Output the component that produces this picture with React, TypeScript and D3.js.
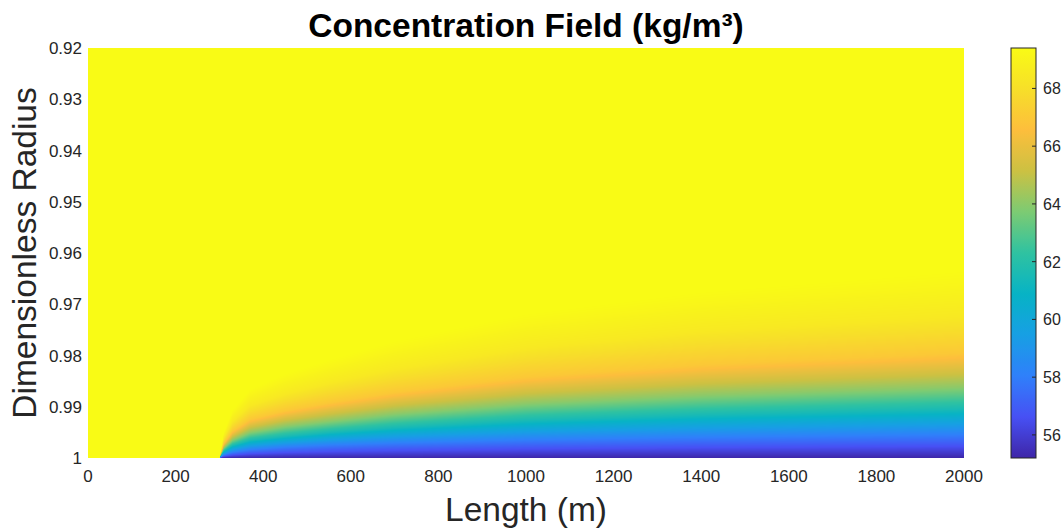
import React, { useMemo } from "react";
import * as d3 from "d3";

// Axis ticks
const lengthTicks = [0, 200, 400, 600, 800, 1000, 1200, 1400, 1600, 1800, 2000];
const radiusTicks = [0.92, 0.93, 0.94, 0.95, 0.96, 0.97, 0.98, 0.99, 1];
const colorTicks = [56, 58, 60, 62, 64, 66, 68];

// Concentration limits (kg/m³)
const wallConc = 55.2;
const bulkConc = 69.4;
const onsetLength = 300; // the wall starts absorbing here (m)

// Stations along the length where the concentration contours are tabulated (m)
const stations = [300, 310, 330, 370, 450, 553, 700, 1000, 1400, 2000];
// Contour levels (kg/m³) and their distance from the wall (1 - r) at each station
const levels = [58, 61.5, 64, 67, 68.5, bulkConc];
const depth58 = [0, 0.0006, 0.0011, 0.0016, 0.0021, 0.0025, 0.0029, 0.0035, 0.004, 0.0045];
const depth615 = [0, 0.0013, 0.0024, 0.0034, 0.0042, 0.005, 0.0059, 0.0073, 0.0084, 0.0095];
const depth64 = [0, 0.0019, 0.0035, 0.005, 0.0062, 0.0072, 0.0086, 0.0106, 0.0122, 0.0138];
const depth67 = [0, 0.0028, 0.0052, 0.0075, 0.0092, 0.0108, 0.0128, 0.0158, 0.0182, 0.0205];
const depth685 = [0, 0.0038, 0.0071, 0.0102, 0.0125, 0.0147, 0.0174, 0.0215, 0.0248, 0.0278];
const depthBulk = [0, 0.005, 0.0093, 0.0134, 0.0164, 0.0192, 0.0228, 0.0281, 0.0324, 0.0365];
const levelDepths = [depth58, depth615, depth64, depth67, depth685, depthBulk];

// Parula colormap stops
const parula = [
  "#3e26a8", "#4750f4", "#2f80fa", "#179fe4", "#07b3c5", "#2fc2a1",
  "#7ccb73", "#ccc142", "#fdbe3c", "#f7df29", "#f9fb15",
];

const W = 1063;
const H = 530;
const plot = { left: 88, right: 964, top: 48, bottom: 458 };
const bar = { left: 1011, width: 25 };
const font = "'Liberation Sans', Arial, Helvetica, sans-serif";
const textColor = "#262626";

export default function App() {
  const x = d3.scaleLinear().domain([0, 2000]).range([plot.left, plot.right]);
  const y = d3.scaleLinear().domain([0.92, 1]).range([plot.top, plot.bottom]);
  const cbar = d3.scaleLinear().domain([wallConc, bulkConc]).range([plot.bottom, plot.top]);
  const colorInterp = d3.piecewise(d3.interpolateRgb, parula);

  const fieldUrl = useMemo(() => {
    const iw = plot.right - plot.left;
    const ih = plot.bottom - plot.top;
    const canvas = document.createElement("canvas");
    canvas.width = iw;
    canvas.height = ih;
    const ctx = canvas.getContext("2d");
    if (!ctx) return "";
    const img = ctx.createImageData(iw, ih);
    const lut: [number, number, number][] = d3.range(1024).map((i) => {
      const c = d3.rgb(colorInterp(i / 1023));
      return [c.r, c.g, c.b];
    });
    const depthScales = levelDepths.map((arr) =>
      d3.scaleLinear().domain(stations).range(arr).clamp(true)
    );
    for (let px = 0; px < iw; px++) {
      const len = x.invert(plot.left + px + 0.5);
      let profile: ((d: number) => number) | null = null;
      if (len >= onsetLength) {
        const depths = depthScales.map((s) => s(len));
        const dom = [0, ...depths];
        // keep the domain strictly increasing
        for (let k = 1; k < dom.length; k++) if (dom[k] <= dom[k - 1]) dom[k] = dom[k - 1] + 1e-7;
        profile = d3.scaleLinear().domain(dom).range([wallConc, ...levels]).clamp(true);
      }
      for (let py = 0; py < ih; py++) {
        const r = y.invert(plot.top + py + 0.5);
        const v = profile ? profile(1 - r) : bulkConc;
        const t = Math.max(0, Math.min(1, (v - wallConc) / (bulkConc - wallConc)));
        const c = lut[Math.round(t * 1023)];
        const o = (py * iw + px) * 4;
        img.data[o] = c[0];
        img.data[o + 1] = c[1];
        img.data[o + 2] = c[2];
        img.data[o + 3] = 255;
      }
    }
    ctx.putImageData(img, 0, 0);
    return canvas.toDataURL();
  }, []);

  const gradStops = d3.range(0, 1.0001, 0.02);

  return (
    <svg
      width={W}
      height={H}
      style={{ position: "absolute", left: 0, top: 0, background: "#fff" }}
      fontFamily={font}
    >
      <defs>
        <linearGradient id="cbarGrad" x1="0" y1="1" x2="0" y2="0">
          {gradStops.map((t) => (
            <stop key={t} offset={t} stopColor={colorInterp(t)} />
          ))}
        </linearGradient>
      </defs>

      <rect x={0} y={0} width={W} height={H} fill="#fff" />

      {/* concentration field */}
      <image
        href={fieldUrl}
        x={plot.left}
        y={plot.top}
        width={plot.right - plot.left}
        height={plot.bottom - plot.top}
        preserveAspectRatio="none"
      />

      {/* x tick labels */}
      {lengthTicks.map((t) => (
        <text key={t} x={x(t)} y={482} textAnchor="middle" fontSize={17} fill={textColor}>
          {t}
        </text>
      ))}
      {/* y tick labels */}
      {radiusTicks.map((t) => (
        <text key={t} x={82} y={y(t) + 6} textAnchor="end" fontSize={17} fill={textColor}>
          {t}
        </text>
      ))}

      <text x={(plot.left + plot.right) / 2} y={521} textAnchor="middle" fontSize={33.5} fill={textColor}>
        Length (m)
      </text>
      <text
        transform={`translate(36, ${(plot.top + plot.bottom) / 2}) rotate(-90)`}
        textAnchor="middle"
        fontSize={33.5}
        fill={textColor}
      >
        Dimensionless Radius
      </text>
      <text
        x={(plot.left + plot.right) / 2}
        y={37}
        textAnchor="middle"
        fontSize={33.5}
        fontWeight="bold"
        fill="#000"
      >
        Concentration Field (kg/m³)
      </text>

      {/* colorbar */}
      <rect
        x={bar.left}
        y={plot.top}
        width={bar.width}
        height={plot.bottom - plot.top}
        fill="url(#cbarGrad)"
        stroke={textColor}
        strokeWidth={1}
      />
      {colorTicks.map((t) => (
        <g key={t}>
          <line
            x1={bar.left + bar.width}
            x2={bar.left + bar.width - 4}
            y1={cbar(t)}
            y2={cbar(t)}
            stroke={textColor}
            strokeWidth={1}
          />
          <text x={1043} y={cbar(t) + 6} fontSize={16} fill={textColor}>
            {t}
          </text>
        </g>
      ))}
    </svg>
  );
}
